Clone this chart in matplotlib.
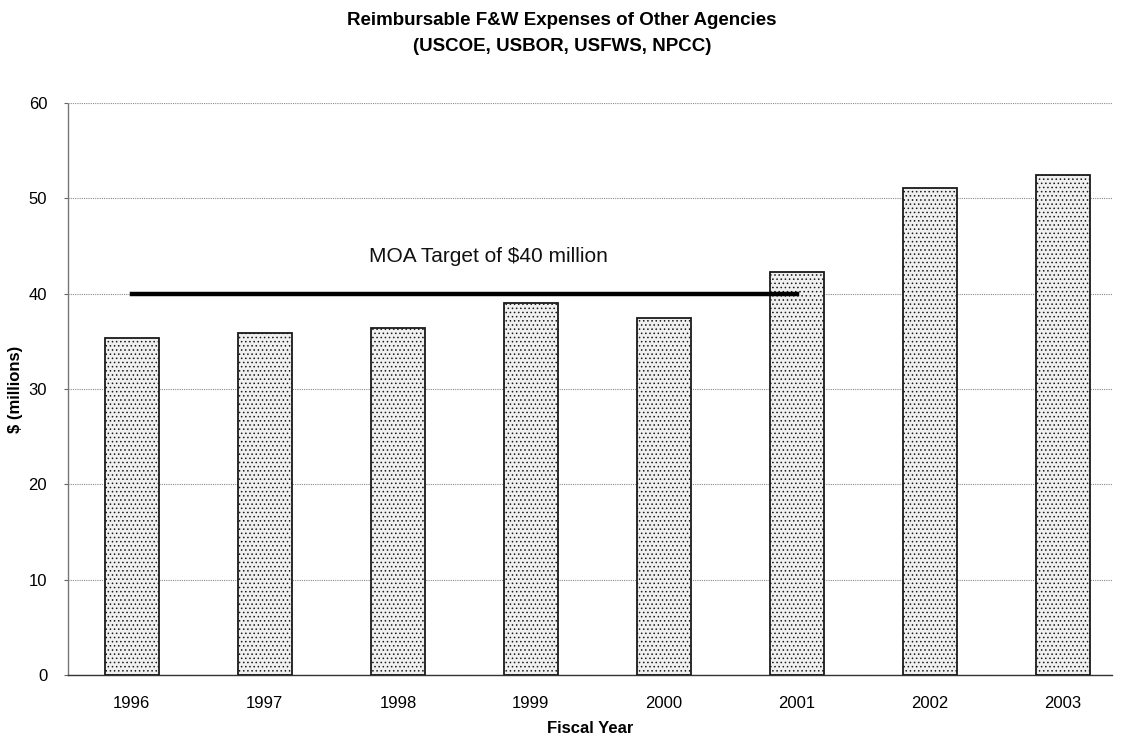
import numpy as np
import matplotlib
matplotlib.use('Agg')
import matplotlib.pyplot as plt

plt.rcParams['font.family'] = ['Liberation Sans', 'DejaVu Sans']
plt.rcParams['hatch.color'] = '#a8a8a8'
plt.rcParams['hatch.linewidth'] = 0.6

# data
years = ['1996', '1997', '1998', '1999', '2000', '2001', '2002', '2003']
expenses = [35.4, 35.9, 36.4, 39.0, 37.5, 42.3, 51.1, 52.4]
target = 40
target_years = ['1996', '2001']
yticks = [0, 10, 20, 30, 40, 50, 60]

fig = plt.figure(figsize=(11.24, 7.41), dpi=100)
ax = fig.add_axes([0.0605, 0.089, 0.929, 0.772])

x = np.arange(len(years))
ax.bar(x, expenses, width=0.41, facecolor='#f0f0f0', edgecolor='#1a1a1a',
       linewidth=1.3, hatch='....', zorder=3)

# MOA target line, from first to 2001 bar center
t0 = years.index(target_years[0])
t1 = years.index(target_years[1])
ax.plot([t0, t1], [target, target], color='black', linewidth=3.2, zorder=4)
ax.text(2.68, target + 3.9, 'MOA Target of $40 million',
        ha='center', va='center', fontsize=15, color='#111111')

ax.set_xlim(-0.48, 7.37)
ax.set_ylim(0, 60)
ax.set_xticks(x)
ax.set_xticklabels(years, fontsize=12)
ax.set_yticks(yticks)
ax.set_yticklabels([str(v) for v in yticks], fontsize=12)
ax.tick_params(axis='x', length=0, pad=15)
ax.tick_params(axis='y', length=3, pad=12, color='#666666')

ax.yaxis.grid(True, color='#8a8a8a', linestyle=(0, (1, 1)), linewidth=0.8, zorder=0)
ax.set_axisbelow(True)

for side in ['top', 'right']:
    ax.spines[side].set_visible(False)
ax.spines['left'].set_color('#777777')
ax.spines['left'].set_linestyle((0, (1, 1)))
ax.spines['left'].set_linewidth(1.0)
ax.spines['bottom'].set_color('#333333')
ax.spines['bottom'].set_linewidth(1.0)

ax.set_xlabel('Fiscal Year', fontsize=12, fontweight='bold', labelpad=7)
ax.set_ylabel('$ (millions)', fontsize=12, fontweight='bold', labelpad=4)

fig.text(0.5, 0.972, 'Reimbursable F&W Expenses of Other Agencies',
         ha='center', va='center', fontsize=13.5, fontweight='bold')
fig.text(0.5, 0.937, '(USCOE, USBOR, USFWS, NPCC)',
         ha='center', va='center', fontsize=13.5, fontweight='bold')

fig.savefig('out.png', dpi=100)
